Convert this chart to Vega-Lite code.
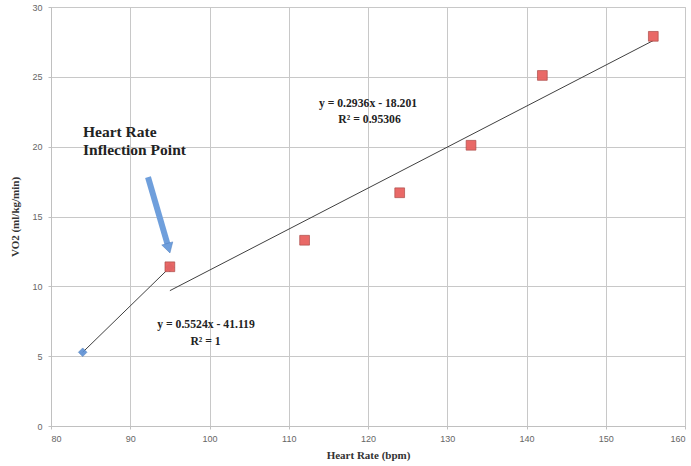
{
  "$schema": "https://vega.github.io/schema/vega-lite/v6.json",
  "width": 634,
  "height": 419,
  "autosize": {"type": "none"},
  "padding": {"left": 51, "top": 7, "right": 6, "bottom": 40},
  "background": "white",
  "config": {
    "view": {"stroke": "#c8c8c8", "strokeWidth": 1},
    "axis": {
      "gridColor": "#c8c8c8",
      "gridWidth": 1,
      "domainColor": "#c0c0c0",
      "tickColor": "#c0c0c0",
      "tickSize": 3,
      "labelColor": "#666666",
      "labelFont": "Liberation Sans",
      "labelFontSize": 9,
      "titleFont": "Liberation Serif",
      "titleFontSize": 11,
      "titleFontWeight": "bold",
      "titleColor": "#333333"
    }
  },
  "datasets": {
    "points": [
      {"series": "below", "hr": 84, "vo2": 5.28},
      {"series": "below", "hr": 95, "vo2": 11.36},
      {"series": "above", "hr": 95, "vo2": 11.4},
      {"series": "above", "hr": 112, "vo2": 13.3},
      {"series": "above", "hr": 124, "vo2": 16.7},
      {"series": "above", "hr": 133, "vo2": 20.1},
      {"series": "above", "hr": 142, "vo2": 25.1},
      {"series": "above", "hr": 156, "vo2": 27.9}
    ],
    "trends": [
      {"series": "below", "hr": 84, "vo2": 5.28},
      {"series": "below", "hr": 95, "vo2": 11.36},
      {"series": "above", "hr": 95, "vo2": 9.69},
      {"series": "above", "hr": 156, "vo2": 27.6}
    ],
    "arrow": [
      {"hr": 92.24, "vo2": 17.82, "hr2": 94.74, "vo22": 12.94}
    ],
    "arrowhead": [
      {"hr": 94.84, "vo2": 12.73}
    ],
    "title": [
      {"hr": 84.04, "vo2": 20.69, "label": ["Heart Rate", "Inflection Point"]}
    ],
    "equations": [
      {"hr": 120.0, "vo2": 22.83, "label": "y = 0.2936x - 18.201"},
      {"hr": 120.2, "vo2": 21.69, "label": "R² = 0.95306"},
      {"hr": 99.56, "vo2": 7.01, "label": "y = 0.5524x - 41.119"},
      {"hr": 99.5, "vo2": 5.8, "label": "R² = 1"}
    ]
  },
  "encoding": {
    "x": {
      "field": "hr",
      "type": "quantitative",
      "scale": {"domain": [80, 160], "nice": false, "zero": false},
      "axis": {"values": [80, 90, 100, 110, 120, 130, 140, 150, 160], "title": "Heart Rate (bpm)", "labelPadding": 5, "titlePadding": 6}
    },
    "y": {
      "field": "vo2",
      "type": "quantitative",
      "scale": {"domain": [0, 30], "nice": false},
      "axis": {"values": [0, 5, 10, 15, 20, 25, 30], "title": "VO2 (ml/kg/min)", "labelPadding": 6, "titlePadding": 11}
    }
  },
  "layer": [
    {
      "data": {"name": "trends"},
      "mark": {"type": "line", "color": "#404040", "strokeWidth": 1},
      "encoding": {"detail": {"field": "series"}}
    },
    {
      "data": {"name": "points"},
      "transform": [{"filter": "datum.series == 'below'"}],
      "mark": {"type": "point", "shape": "diamond", "filled": true, "size": 75, "color": "#5b8fd4", "stroke": "#3c6fb0", "strokeWidth": 0.5, "opacity": 0.9}
    },
    {
      "data": {"name": "points"},
      "transform": [{"filter": "datum.series == 'above'"}],
      "mark": {"type": "point", "shape": "square", "filled": true, "size": 95, "fill": "#e8625f", "stroke": "#a84440", "strokeWidth": 0.7, "opacity": 0.95}
    },
    {
      "data": {"name": "arrow"},
      "mark": {"type": "rule", "color": "#6f9fdc", "strokeWidth": 6, "strokeCap": "butt"},
      "encoding": {
        "x2": {"field": "hr2"},
        "y2": {"field": "vo22"}
      }
    },
    {
      "data": {"name": "arrowhead"},
      "mark": {"type": "point", "shape": "triangle-down", "filled": true, "size": 130, "color": "#6f9fdc", "stroke": "#4f7fbf", "strokeWidth": 0.5, "opacity": 1, "angle": -16}
    },
    {
      "data": {"name": "title"},
      "mark": {"type": "text", "align": "left", "baseline": "alphabetic", "font": "Liberation Serif", "fontWeight": "bold", "fontSize": 15.5, "lineHeight": 18, "color": "#222222"},
      "encoding": {"text": {"field": "label"}}
    },
    {
      "data": {"name": "equations"},
      "mark": {"type": "text", "align": "center", "baseline": "alphabetic", "font": "Liberation Serif", "fontWeight": "bold", "fontSize": 11.7, "color": "#222222"},
      "encoding": {"text": {"field": "label"}}
    }
  ]
}
